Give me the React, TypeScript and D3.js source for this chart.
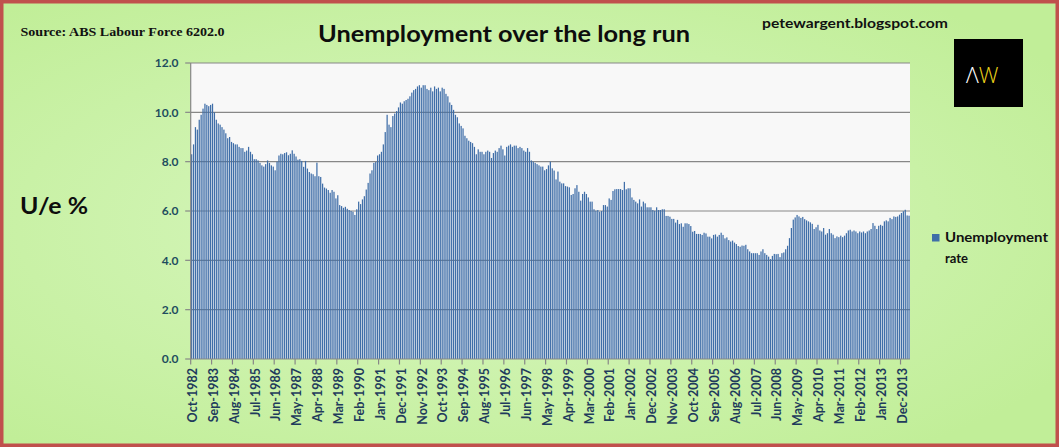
import React, { useRef, useEffect } from 'react';
import * as d3 from 'd3';

// Monthly categories, Oct-1982 .. Apr-2014
const firstMonth = new Date(1982, 9, 1);
const endMonth = new Date(2014, 4, 1);
const months = d3.timeMonth.range(firstMonth, endMonth);
const categories = months.map(d3.timeFormat('%b-%Y'));

// Unemployment rate (%), one value per month
const rate1982 = [8.3, 8.7, 9.4];
const rate1983to1989 = [
  9.3, 9.7, 9.9, 10.15, 10.35, 10.3, 10.25, 10.3, 10.35, 10.0, 9.7, 9.55,
  9.5, 9.4, 9.3, 9.15, 8.95, 9.0, 8.8, 8.75, 8.7, 8.7, 8.6, 8.55,
  8.55, 8.4, 8.45, 8.6, 8.4, 8.3, 8.1, 8.1, 8.05, 7.95, 7.85, 7.8,
  7.9, 8.05, 7.95, 7.85, 7.8, 7.65, 8.0, 8.25, 8.32, 8.3, 8.35, 8.38,
  8.26, 8.32, 8.46, 8.32, 8.21, 8.08, 8.1, 8.03, 7.79, 8.03, 7.72, 7.58,
  7.52, 7.49, 7.41, 7.96, 7.41, 7.38, 7.11, 6.95, 6.91, 6.85, 6.74, 6.85,
  6.78, 6.51, 6.64, 6.24, 6.2, 6.13, 6.17, 6.09, 6.04, 6.0, 5.97, 5.84,
];
const rate1990s = [
  6.07, 6.38, 6.28, 6.47, 6.6, 6.87, 7.14, 7.52, 7.65, 7.95, 7.99, 8.25,
  8.3, 8.4, 8.7, 9.2, 9.9, 9.5, 9.4, 9.85, 9.95, 10.05, 10.2, 10.4,
  10.35, 10.45, 10.5, 10.55, 10.65, 10.8, 10.9, 10.95, 11.05, 11.1, 11.0, 11.1,
  11.1, 10.95, 10.9, 11.0, 10.85, 11.05, 10.95, 11.0, 10.85, 11.0, 10.95, 10.75,
  10.65, 10.4, 10.3, 10.1, 9.9, 9.8, 9.55, 9.45, 9.35, 9.05, 8.95, 8.85,
  8.8, 8.75, 8.6, 8.3, 8.5, 8.4, 8.4, 8.3, 8.4, 8.45, 8.4, 8.15,
  8.35, 8.45, 8.4, 8.55, 8.65, 8.5, 8.25, 8.6, 8.65, 8.7, 8.6, 8.65,
  8.65, 8.55, 8.6, 8.55, 8.45, 8.4, 8.55, 8.4, 8.05, 8.0, 7.95, 7.9,
  7.85, 7.8, 7.8, 7.65, 7.7, 7.85, 8.0, 7.73, 7.64, 7.28, 7.6, 7.19,
  7.12, 7.12, 7.01, 6.99, 6.96, 6.65, 6.69, 6.92, 7.05, 6.78, 6.42, 6.69,
];
const rate2000s = [
  6.78, 6.69, 6.55, 6.38, 6.38, 6.07, 6.01, 6.04, 5.97, 6.0, 6.24, 6.24,
  6.18, 6.51, 6.45, 6.81, 6.88, 6.89, 6.89, 6.89, 6.85, 7.18, 6.88, 6.92,
  6.92, 6.55, 6.45, 6.38, 6.31, 6.47, 6.18, 6.38, 6.31, 6.15, 6.15, 6.15,
  6.04, 6.01, 6.15, 6.04, 6.04, 6.07, 6.07, 5.8, 5.8, 5.77, 5.68, 5.68,
  5.53, 5.64, 5.47, 5.5, 5.36, 5.5, 5.5, 5.47, 5.39, 5.16, 5.19, 5.07,
  5.07, 5.07, 5.03, 5.12, 5.09, 4.96, 4.96, 4.89, 5.03, 5.05, 4.96, 5.03,
  5.12, 5.03, 4.89, 4.93, 4.82, 4.76, 4.8, 4.72, 4.66, 4.58, 4.55, 4.6,
  4.59, 4.63, 4.45, 4.36, 4.29, 4.29, 4.29, 4.29, 4.22, 4.36, 4.45, 4.29,
  4.22, 4.15, 4.05, 4.18, 4.26, 4.25, 4.26, 4.13, 4.29, 4.32, 4.45, 4.59,
  4.9, 5.31, 5.65, 5.74, 5.84, 5.78, 5.72, 5.76, 5.67, 5.62, 5.58, 5.54,
];
const rate2010s = [
  5.48, 5.27, 5.34, 5.44, 5.21, 5.17, 5.31, 5.04, 5.1, 5.27, 5.1, 5.04,
  4.9, 4.97, 4.94, 5.0, 4.94, 5.0, 5.1, 5.21, 5.24, 5.17, 5.21, 5.17,
  5.1, 5.17, 5.13, 5.17, 5.1, 5.17, 5.21, 5.27, 5.51, 5.4, 5.27, 5.4,
  5.44, 5.4, 5.58, 5.62, 5.58, 5.72, 5.67, 5.78, 5.76, 5.78, 5.85, 5.92,
  5.99, 6.05, 5.82, 5.81,
];
const unemploymentRate = [...rate1982, ...rate1983to1989, ...rate1990s, ...rate2000s, ...rate2010s];

const yTicks = [0, 2, 4, 6, 8, 10, 12];
const labelEvery = 11;

const W = 1059;
const H = 447;
const plot = { left: 190.7, right: 910, top: 63, bottom: 359 };
const barColor = '#3f6ea8';

const App: React.FC = () => {
  const svgRef = useRef<SVGSVGElement>(null);

  useEffect(() => {
    if (!svgRef.current) return;
    const svg = d3.select(svgRef.current);
    svg.selectAll('*').remove();

    // Background
    const defs = svg.append('defs');
    const grad = defs
      .append('radialGradient')
      .attr('id', 'bg')
      .attr('cx', '45%')
      .attr('cy', '50%')
      .attr('r', '65%');
    grad.append('stop').attr('offset', '0%').attr('stop-color', '#d9f7c2');
    grad.append('stop').attr('offset', '100%').attr('stop-color', '#c1ee98');

    svg.append('rect').attr('width', W).attr('height', H).attr('fill', 'url(#bg)');
    svg
      .append('rect')
      .attr('x', 1.75)
      .attr('y', 1.75)
      .attr('width', W - 3.5)
      .attr('height', H - 3.5)
      .attr('fill', 'none')
      .attr('stroke', '#c0504d')
      .attr('stroke-width', 3.5);

    // Scales
    const x = d3
      .scaleBand<string>()
      .domain(categories)
      .range([plot.left, plot.right])
      .paddingInner(0.35)
      .paddingOuter(0.175);
    const y = d3.scaleLinear().domain([0, 12]).range([plot.bottom, plot.top]);
    const step = x.step();

    // Plot area
    svg
      .append('rect')
      .attr('x', plot.left)
      .attr('y', plot.top)
      .attr('width', plot.right - plot.left)
      .attr('height', plot.bottom - plot.top)
      .attr('fill', '#f8f8f8');

    // Grid lines
    svg
      .selectAll('.grid')
      .data(yTicks.filter(t => t > 0))
      .enter()
      .append('line')
      .attr('class', 'grid')
      .attr('x1', plot.left)
      .attr('x2', plot.right)
      .attr('y1', d => y(d))
      .attr('y2', d => y(d))
      .attr('stroke', '#878787')
      .attr('stroke-width', 1.2);

    // Bars
    svg
      .selectAll('.bar')
      .data(unemploymentRate)
      .enter()
      .append('rect')
      .attr('class', 'bar')
      .attr('x', (d, i) => x(categories[i]) as number)
      .attr('y', d => y(d))
      .attr('width', x.bandwidth())
      .attr('height', d => plot.bottom - y(d))
      .attr('fill', barColor);

    // Y axis
    svg
      .append('line')
      .attr('x1', plot.left)
      .attr('x2', plot.left)
      .attr('y1', plot.top)
      .attr('y2', plot.bottom)
      .attr('stroke', '#878787')
      .attr('stroke-width', 1.2);
    svg
      .selectAll('.ytick')
      .data(yTicks)
      .enter()
      .append('line')
      .attr('class', 'ytick')
      .attr('x1', plot.left - 5.5)
      .attr('x2', plot.left)
      .attr('y1', d => y(d))
      .attr('y2', d => y(d))
      .attr('stroke', '#878787')
      .attr('stroke-width', 1.2);
    svg
      .selectAll('.ylabel')
      .data(yTicks)
      .enter()
      .append('text')
      .attr('class', 'ylabel')
      .attr('x', 178.5)
      .attr('y', d => y(d) + 4.3)
      .attr('text-anchor', 'end')
      .attr('fill', '#1e4d5e')
      .style('font-family', 'Lato, sans-serif')
      .style('font-weight', 'bold')
      .style('font-size', '12px')
      .text(d => d3.format('.1f')(d));

    // X axis
    svg
      .append('line')
      .attr('x1', plot.left)
      .attr('x2', plot.right)
      .attr('y1', plot.bottom)
      .attr('y2', plot.bottom)
      .attr('stroke', '#878787')
      .attr('stroke-width', 1.2);
    const tickIdx = categories.map((c, i) => i).filter(i => i % labelEvery === 0);
    const edge = (i: number) => (x(categories[i]) as number) - step * 0.175;
    svg
      .selectAll('.xtick')
      .data(tickIdx)
      .enter()
      .append('line')
      .attr('class', 'xtick')
      .attr('x1', d => edge(d))
      .attr('x2', d => edge(d))
      .attr('y1', plot.bottom)
      .attr('y2', plot.bottom + 5.5)
      .attr('stroke', '#878787')
      .attr('stroke-width', 1.2);
    svg
      .selectAll('.xlabel')
      .data(tickIdx)
      .enter()
      .append('text')
      .attr('class', 'xlabel')
      .attr('transform', d => `translate(${edge(d) + 6.2},368) rotate(-90)`)
      .attr('text-anchor', 'end')
      .attr('fill', '#1f3b5c')
      .style('font-family', 'Lato, sans-serif')
      .style('font-weight', 'bold')
      .style('font-size', '12.5px')
      .text(d => categories[d]);

    // Titles and notes
    svg
      .append('text')
      .attr('x', 318)
      .attr('y', 42)
      .attr('textLength', 372)
      .attr('lengthAdjust', 'spacingAndGlyphs')
      .attr('fill', '#0d0d0d')
      .style('font-family', 'Lato, sans-serif')
      .style('font-weight', 'bold')
      .style('font-size', '22px')
      .text('Unemployment over the long run');
    svg
      .append('text')
      .attr('x', 20.5)
      .attr('y', 36)
      .attr('textLength', 204)
      .attr('lengthAdjust', 'spacingAndGlyphs')
      .attr('fill', '#111')
      .style('font-family', '"Liberation Serif", serif')
      .style('font-weight', 'bold')
      .style('font-size', '13.5px')
      .text('Source: ABS Labour Force 6202.0');
    svg
      .append('text')
      .attr('x', 762)
      .attr('y', 28)
      .attr('textLength', 186)
      .attr('lengthAdjust', 'spacingAndGlyphs')
      .attr('fill', '#111')
      .style('font-family', 'Lato, sans-serif')
      .style('font-weight', 'bold')
      .style('font-size', '14px')
      .text('petewargent.blogspot.com');
    svg
      .append('text')
      .attr('x', 20)
      .attr('y', 214)
      .attr('textLength', 68)
      .attr('lengthAdjust', 'spacingAndGlyphs')
      .attr('fill', '#0d0d0d')
      .style('font-family', 'Lato, sans-serif')
      .style('font-weight', 'bold')
      .style('font-size', '23px')
      .text('U/e %');

    // Logo
    svg.append('rect').attr('x', 954).attr('y', 39).attr('width', 69).attr('height', 68).attr('fill', '#000');
    const logo = svg
      .append('text')
      .attr('x', 966)
      .attr('y', 83)
      .style('font-family', '"Open Sans", sans-serif')
      .style('font-weight', 300)
      .style('font-size', '22px');
    logo.append('tspan').attr('fill', '#ffffff').text('Λ');
    logo.append('tspan').attr('fill', '#ecd21a').text('W');

    // Legend
    svg.append('rect').attr('x', 932).attr('y', 234).attr('width', 7.5).attr('height', 7.5).attr('fill', barColor);
    const legendText = svg
      .append('text')
      .attr('fill', '#111')
      .style('font-family', 'Lato, sans-serif')
      .style('font-weight', 'bold')
      .style('font-size', '13px');
    legendText.append('tspan').attr('x', 945).attr('y', 242).attr('textLength', 103).attr('lengthAdjust', 'spacingAndGlyphs').text('Unemployment');
    legendText.append('tspan').attr('x', 945).attr('y', 263).text('rate');
  }, []);

  return (
    <div style={{ position: 'absolute', left: 0, top: 0 }}>
      <svg ref={svgRef} width={W} height={H} style={{ display: 'block' }} />
    </div>
  );
};

export default App;
